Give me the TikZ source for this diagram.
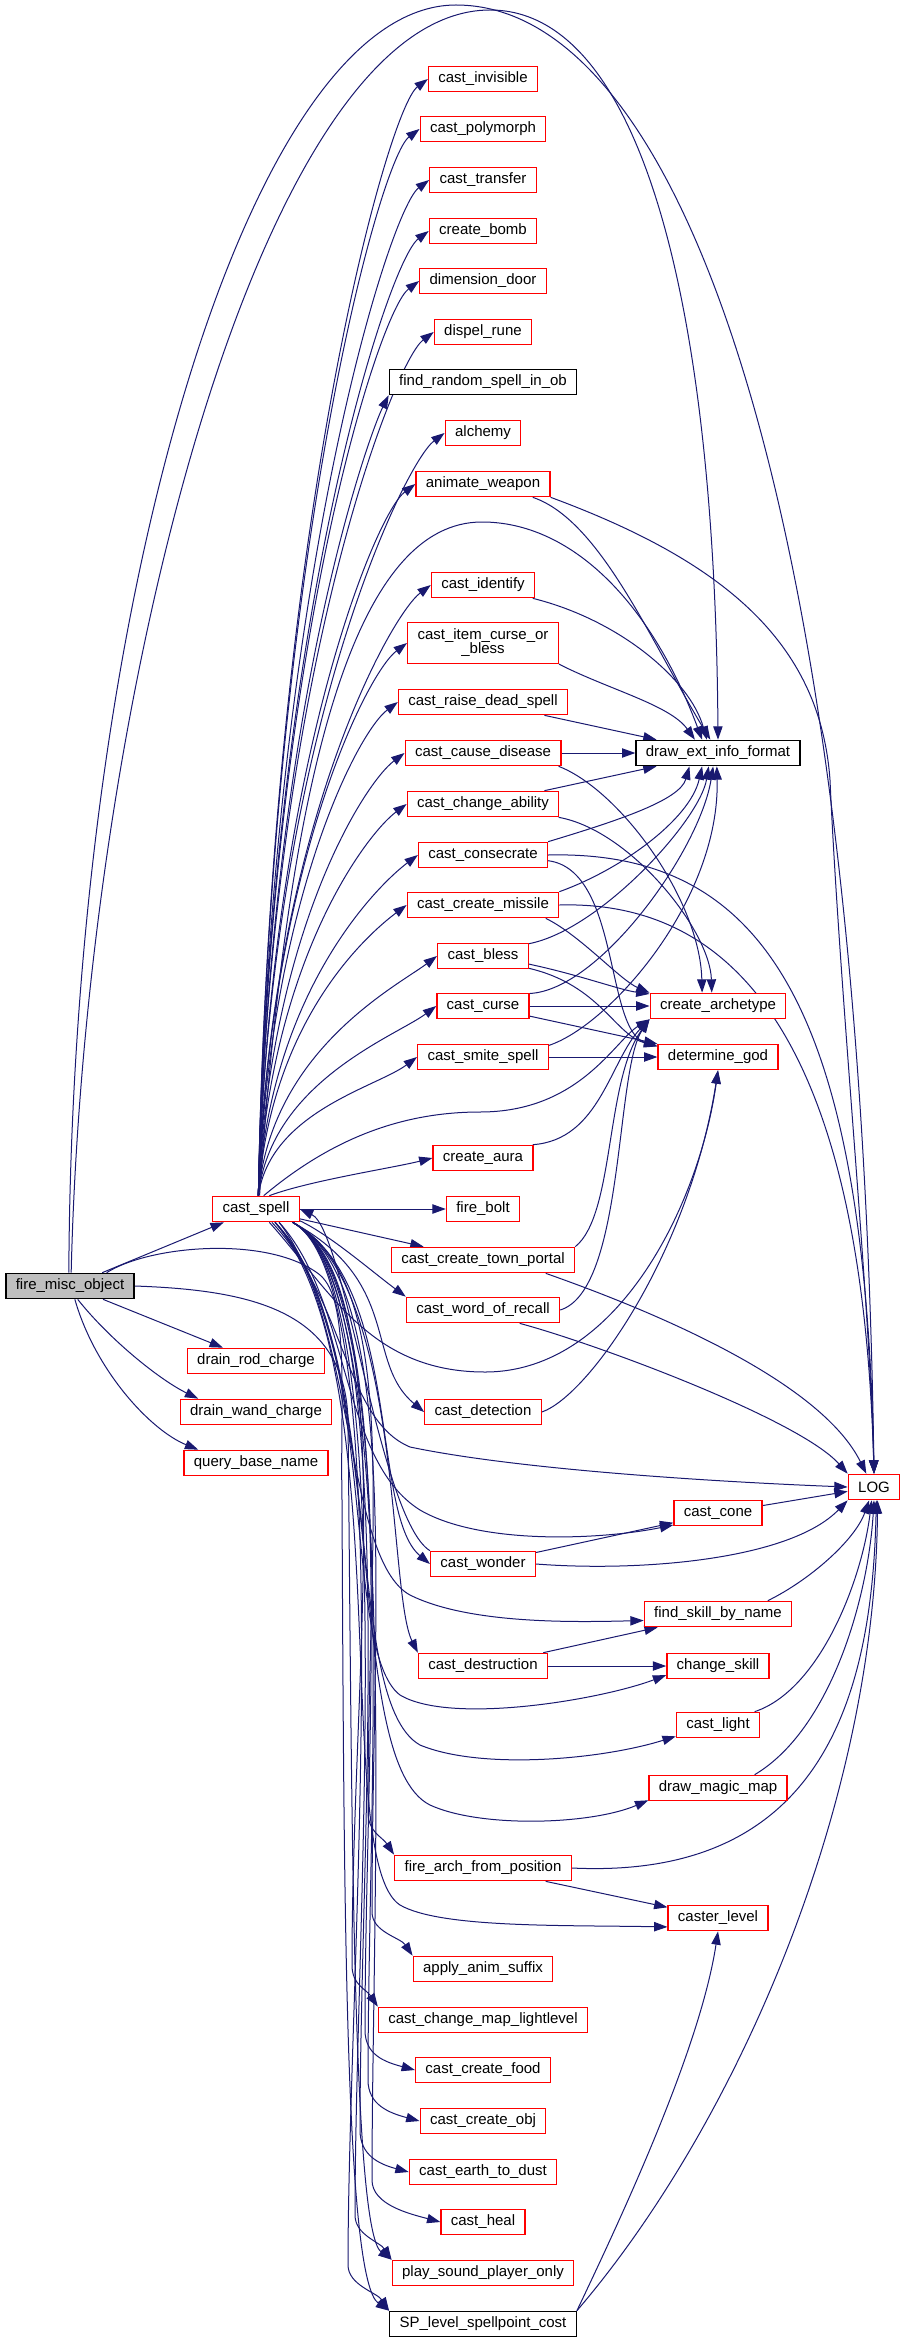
\documentclass[tikz,border=0pt]{standalone}
\usepackage{fontspec}
\setmainfont{Liberation Sans}
\usetikzlibrary{arrows.meta,backgrounds}

\definecolor{edgeblue}{HTML}{191970}
\definecolor{callergray}{HTML}{BFBFBF}

\tikzset{
    fn/.style={draw=red, fill=white, line width=1pt, inner xsep=7.4pt, inner ysep=0pt,
        minimum height=19pt, font=\fontsize{11.25}{10.5}\selectfont},
    fnplain/.style={fn, draw=black},
    call/.style={draw=edgeblue, line width=0.75pt, -{Triangle[length=10pt,width=7pt]}}
}

\begin{document}
\begin{tikzpicture}[x=0.75pt,y=-0.75pt]
    \useasboundingbox (0,0) rectangle (900,2343);
    %% Caller
    \node[fnplain,fill=callergray] (fmo) at (70,1286) {fire\_misc\_object};
    %% Direct callees
    \node[fn] (cs) at (256,1209) {cast\_spell};
    \node[fn] (drc) at (256,1361) {drain\_rod\_charge};
    \node[fn] (dwc) at (256,1412) {drain\_wand\_charge};
    \node[fn] (qbn) at (256,1463) {query\_base\_name};
    %% Spells
    \node[fn] (cinv) at (483,79) {cast\_invisible};
    \node[fn] (cpoly) at (483,129) {cast\_polymorph};
    \node[fn] (ctrans) at (483,180) {cast\_transfer};
    \node[fn] (cbomb) at (483,231) {create\_bomb};
    \node[fn] (ddoor) at (483,281) {dimension\_door};
    \node[fn] (drune) at (483,332) {dispel\_rune};
    \node[fnplain] (frs) at (483,382) {find\_random\_spell\_in\_ob};
    \node[fn] (alch) at (483,433) {alchemy};
    \node[fn] (aweap) at (483,484) {animate\_weapon};
    \node[fn] (cident) at (483,585) {cast\_identify};
    \node[fn,align=center,minimum height=30.75pt] (cicb) at (483,643) {cast\_item\_curse\_or\\\_bless};
    \node[fn] (crds) at (483,702) {cast\_raise\_dead\_spell};
    \node[fn] (ccd) at (483,753) {cast\_cause\_disease};
    \node[fn] (cca) at (483,804) {cast\_change\_ability};
    \node[fn] (ccons) at (483,855) {cast\_consecrate};
    \node[fn] (ccm) at (483,905) {cast\_create\_missile};
    \node[fn] (cbless) at (483,956) {cast\_bless};
    \node[fn] (ccurse) at (483,1006) {cast\_curse};
    \node[fn] (css) at (483,1057) {cast\_smite\_spell};
    \node[fn] (caura) at (483,1158) {create\_aura};
    \node[fn] (fbolt) at (483,1209) {fire\_bolt};
    \node[fn] (cctp) at (483,1260) {cast\_create\_town\_portal};
    \node[fn] (cwor) at (483,1310) {cast\_word\_of\_recall};
    \node[fn] (cdet) at (483,1412) {cast\_detection};
    \node[fn] (cwond) at (483,1564) {cast\_wonder};
    \node[fn] (cdest) at (483,1666) {cast\_destruction};
    \node[fn] (fafp) at (483,1868) {fire\_arch\_from\_position};
    \node[fn] (aas) at (483,1969) {apply\_anim\_suffix};
    \node[fn] (ccml) at (483,2020) {cast\_change\_map\_lightlevel};
    \node[fn] (ccf) at (483,2070) {cast\_create\_food};
    \node[fn] (cco) at (483,2121) {cast\_create\_obj};
    \node[fn] (cetd) at (483,2172) {cast\_earth\_to\_dust};
    \node[fn] (cheal) at (483,2222) {cast\_heal};
    \node[fn] (pspo) at (483,2273) {play\_sound\_player\_only};
    \node[fnplain] (splsc) at (483,2324) {SP\_level\_spellpoint\_cost};
    %% Helpers
    \node[fnplain] (deif) at (718,753) {draw\_ext\_info\_format};
    \node[fn] (carch) at (718,1006) {create\_archetype};
    \node[fn] (dgod) at (718,1057) {determine\_god};
    \node[fn] (ccone) at (718,1513) {cast\_cone};
    \node[fn] (fsbn) at (718,1614) {find\_skill\_by\_name};
    \node[fn] (chsk) at (718,1666) {change\_skill};
    \node[fn] (clight) at (718,1725) {cast\_light};
    \node[fn] (dmm) at (718,1788) {draw\_magic\_map};
    \node[fn] (clev) at (718,1918) {caster\_level};
    \node[fn] (log) at (874,1487) {LOG};

    \begin{scope}[on background layer]
    \fill[white] (0,0) rectangle (900,2343);
    %% Calls of fire_misc_object
    \draw[call] (fmo) -- (cs);
    \draw[call] (fmo) -- (drc);
    \draw[call] (fmo.-60) .. controls (110,1340) and (160,1380) .. (dwc.167);
    \draw[call] (fmo.-70) .. controls (95,1370) and (150,1430) .. (qbn.167);
    \draw[call] (fmo.85) .. controls (85,700) and (260,10) .. (490,10) .. controls (640,10) and (715,300) .. (deif.north);
    \draw[call] (fmo.95) .. controls (72,600) and (250,5) .. (456,5) .. controls (680,5) and (860,500) .. (log.north);
    \draw[call] (fmo.east) .. controls (250,1290) and (345,1310) .. (348,1420) .. controls (352,1800) and (352,2230) .. (pspo.north west);
    \draw[call] (fmo.20) .. controls (150,1245) and (270,1235) .. (320,1275) .. controls (350,1300) and (340,1400) .. (342,1500) .. controls (344,1900) and (345,2280) .. (splsc.north west);
    %% Calls of cast_spell, upwards
    \foreach \tgt/\hh in {cinv/671, cpoly/641, ctrans/610, cbomb/580, ddoor/550, drune/519, alch/458, aweap/428, cident/367, cicb/332, crds/297, ccd/266, cca/236, ccons/205, ccm/175, cbless/145, ccurse/114, css/84}
        \draw[call] (cs.80) .. controls +(12,-\hh) and +(-40,30) .. (\tgt.west);
    \draw[call] (cs.80) .. controls +(12,-489) and +(-20,40) .. (frs.south west);
    \draw[call] (cs.45) .. controls +(40,-15) and +(-40,10) .. (caura.west);
    \draw[call] (cs.75) .. controls (290,750) and (360,522) .. (482,522) .. controls (570,522) and (650,600) .. (deif.140);
    \draw[call] (cs.60) .. controls (330,1140) and (400,1112) .. (480,1112) .. controls (580,1112) and (615,1040) .. (carch.south west);
    %% Calls of cast_spell, to the right
    \draw[call] (cs) -- (fbolt);
    \draw[call] (cs) -- (cctp);
    \draw[call] (cs.-15) .. controls (330,1235) and (370,1270) .. (cwor.north west);
    \draw[call] (cs.-45) .. controls (330,1290) and (370,1372) .. (485,1372) .. controls (620,1372) and (700,1200) .. (dgod.south);
    \draw[call] (cs.-40) .. controls (345,1300) and (345,1420) .. (410,1447) .. controls (520,1470) and (720,1482) .. (log.west);
    \draw[call] (cs.-30) .. controls (350,1300) and (340,1460) .. (420,1510) .. controls (480,1545) and (600,1540) .. (ccone.195);
    \draw[call] (cs.-30) .. controls (355,1320) and (345,1560) .. (410,1595) .. controls (470,1625) and (580,1622) .. (fsbn.185);
    \draw[call] (cs.-35) .. controls (380,1330) and (340,1650) .. (400,1695) .. controls (450,1725) and (600,1700) .. (chsk.190);
    \draw[call] (cs.-35) .. controls (390,1350) and (340,1700) .. (420,1745) .. controls (480,1770) and (600,1760) .. (clight.195);
    \draw[call] (cs.-35) .. controls (395,1360) and (340,1760) .. (430,1805) .. controls (480,1828) and (590,1825) .. (dmm.190);
    \draw[call] (cs.-35) .. controls (400,1370) and (330,1860) .. (400,1905) .. controls (440,1928) and (560,1925) .. (clev.190);
    %% Calls of cast_spell, downwards
    \foreach \tgt/\anc/\cx/\cy in {cdet/west/-60/-50, cwond/west/-60/-50, cdest/north west/-30/-60}
        \draw[call] (cs.-20) .. controls +(110,60) and +(\cx,\cy) .. (\tgt.\anc);
    \foreach \tgt/\vx/\vy in {fafp/368/1812, aas/372/1912, ccml/352/1965, pspo/355/2215, splsc/348/2265}
        \draw[call] (cs.-20) .. controls +(110,60) and (\vx,\vy-300) .. (\vx,\vy) .. controls (\vx,\vy+20) and +(-12,-18) .. (\tgt.north west);
    \foreach \tgt/\vx/\vy in {ccf/365/2030, cco/368/2080, cetd/360/2130, cheal/372/2180}
        \draw[call] (cs.-20) .. controls +(110,60) and (\vx,\vy-300) .. (\vx,\vy) .. controls (\vx,\vy+25) and +(-30,-8) .. (\tgt.west);
    \draw[call] (cwond.north west) .. controls (380,1520) and (345,1230) .. (cs.east);
    %% Into draw_ext_info_format
    \draw[call] (aweap.-15) .. controls (600,520) and (650,640) .. (deif.120);
    \draw[call] (cident.-15) .. controls (620,620) and (690,680) .. (deif.130);
    \draw[call] (cicb.south east) .. controls (610,690) and (670,705) .. (deif.150);
    \draw[call] (crds) -- (deif);
    \draw[call] (ccd) -- (deif);
    \draw[call] (cca) -- (deif);
    \draw[call] (ccons.north east) .. controls (620,820) and (680,800) .. (deif.205);
    \draw[call] (ccm.north east) .. controls (620,870) and (690,820) .. (deif.220);
    \draw[call] (cbless.15) .. controls (600,930) and (700,820) .. (deif.235);
    \draw[call] (ccurse.15) .. controls (600,990) and (700,850) .. (deif.250);
    \draw[call] (css.10) .. controls (610,1025) and (720,900) .. (deif.265);
    %% Into create_archetype and determine_god
    \draw[call] (ccd.-10) .. controls (620,790) and (700,900) .. (carch.140);
    \draw[call] (cca.-10) .. controls (630,830) and (710,930) .. (carch.115);
    \draw[call] (ccm.-12) .. controls (580,935) and (620,980) .. (carch.north west);
    \draw[call] (cbless.-10) .. controls (580,975) and (620,990) .. (carch.170);
    \draw[call] (ccurse) -- (carch);
    \draw[call] (caura.15) .. controls (600,1140) and (610,1060) .. (carch.south west);
    \draw[call] (cctp.north east) .. controls (615,1215) and (605,1080) .. (carch.south west);
    \draw[call] (cwor.east) .. controls (625,1290) and (615,1070) .. (carch.south west);
    \draw[call] (ccons.-5) .. controls (620,870) and (605,1030) .. (dgod.170);
    \draw[call] (cbless.-15) .. controls (600,985) and (615,1035) .. (dgod.170);
    \draw[call] (ccurse) -- (dgod);
    \draw[call] (css) -- (dgod);
    \draw[call] (cdet.east) .. controls (590,1395) and (690,1250) .. (dgod.south);
    %% Into LOG
    \draw[call] (aweap.south east) .. controls (720,560) and (820,640) .. (830,780) .. controls (840,1000) and (870,1300) .. (log.north);
    \draw[call] (ccons.east) .. controls (760,850) and (865,1000) .. (log.north);
    \draw[call] (ccm.east) .. controls (740,900) and (862,1050) .. (log.north);
    \draw[call] (cctp.-12) .. controls (650,1310) and (820,1380) .. (log.120);
    \draw[call] (cwor.-20) .. controls (600,1345) and (800,1420) .. (log.north west);
    \draw[call] (cwond) -- (ccone);
    \draw[call] (cwond.east) .. controls (640,1572) and (790,1560) .. (log.south west);
    \draw[call] (ccone) -- (log);
    \draw[call] (cdest) -- (fsbn);
    \draw[call] (cdest) -- (chsk);
    \draw[call] (fsbn.15) .. controls (810,1580) and (855,1540) .. (log.250);
    \draw[call] (clight.20) .. controls (820,1690) and (862,1580) .. (log.260);
    \draw[call] (dmm.20) .. controls (830,1730) and (868,1600) .. (log.south);
    \draw[call] (fafp.east) .. controls (820,1880) and (872,1700) .. (log.-80);
    \draw[call] (fafp) -- (clev);
    \draw[call] (splsc.north east) .. controls (620,2220) and (700,2050) .. (clev.south);
    \draw[call] (splsc.north east) .. controls (740,2120) and (875,1800) .. (log.-75);
    \end{scope}
\end{tikzpicture}
\end{document}
